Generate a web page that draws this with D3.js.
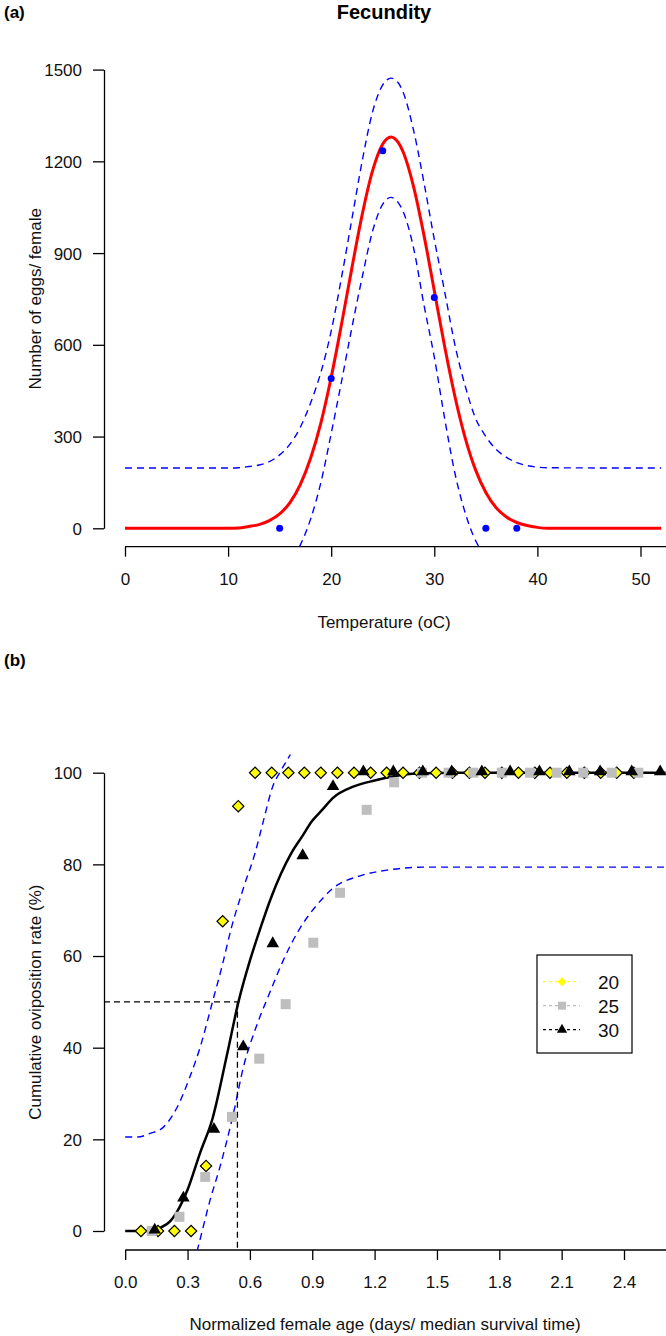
<!DOCTYPE html>
<html><head><meta charset="utf-8">
<script src="https://cdn.jsdelivr.net/npm/d3@7"></script>
<style>
body{margin:0;background:#fff;}
svg{display:block;font-family:"Liberation Sans",Arial,sans-serif;}
</style></head>
<body>
<svg id="c" width="666" height="1336"></svg>
<script>
// ---------- Panel (a) data ----------
const tempObs = [15, 20, 25, 30, 35, 38];
const eggsObs = [0, 490, 1235, 755, 0, 0];
const fitTemp = [0,10,11,12,13,14,15,16,17,18,19,20,21,22,23,24,25,25.8,26.5,27,28,29,30,31,32,33,34,35,36,37,38,39,40,41,52];
const fitEggs = [0,0,1,6,12,25,47,84,143,229,345,494,667,850,1025,1168,1257,1280,1262,1229,1116,958,777,595,431,295,191,117,67,37,19,9,3,0,0];
const fitUpper = [197,197,198,202,207,218,240,275,330,410,510,645,820,1010,1200,1360,1450,1472,1457,1424,1300,1130,945,775,600,465,360,300,258,232,215,205,200,198,197];
const fitLower = [-197,-197,-196,-190,-184,-172,-150,-113,-55,30,150,310,480,655,820,970,1060,1082,1065,1034,915,730,560,360,180,50,-40,-90,-130,-158,-176,-186,-192,-195,-197];
const tempTicks = [0,10,20,30,40,50];
const eggTicks = [0,300,600,900,1200,1500];

// ---------- Panel (b) data ----------
const age20 = [0.076,0.158,0.237,0.317,0.389,0.469,0.544,0.625,0.705,0.785,0.862,0.941,1.021,1.101,1.181,1.258,1.337,1.416,1.496,1.575,1.656,1.731,1.812,1.892,1.971,2.044,2.125,2.209,2.288,2.365,2.447];
const rate20 = [0,0,0,0,14.2,67.6,92.7,100,100,100,100,100,100,100,100,100,100,100,100,100,100,100,100,100,100,100,100,100,100,100,100];
const age25 = [0.128,0.261,0.385,0.514,0.645,0.772,0.905,1.034,1.162,1.294,1.428,1.556,1.675,1.812,1.948,2.076,2.204,2.341,2.469];
const rate25 = [0,3.1,11.8,24.9,37.6,49.5,62.9,73.8,91.9,97.9,100,100,100,100,100,100,100,100,100];
const age30 = [0.142,0.28,0.427,0.568,0.71,0.854,1.0,1.146,1.29,1.432,1.571,1.716,1.852,1.993,2.137,2.285,2.437,2.574];
const rate30 = [0,7,22,40,62.5,81.7,96.8,100,100,100,100,100,100,100,100,100,100,100];
const fitAge = [0,0.1,0.2,0.3,0.36,0.42,0.49,0.545,0.6,0.65,0.7,0.75,0.8,0.85,0.9,0.95,1.0,1.1,1.2,1.3,1.4,1.6,2.6];
const fitRate = [0,0,1.5,9,17,24.5,38.5,50,59,66,72.5,78,82.5,86,89.5,92,94.5,97,98.3,99.3,99.8,100,100];
const upAge = [0,0.06,0.12,0.18,0.25,0.31,0.36,0.42,0.47,0.51,0.57,0.625,0.665,0.71,0.75,0.8,0.85];
const upRate = [20.5,20.5,21.3,22.5,27,33.5,40,50,58.5,66,75,82.5,89.5,97,100.5,104.5,110];
const loAge = [0.30,0.348,0.41,0.456,0.52,0.57,0.63,0.70,0.76,0.84,0.92,1.0,1.13,1.27,1.45,2.6];
const loRate = [-12,-4,7,14,25.5,36,44.5,52.5,59,66,71,74.8,77.5,78.8,79.4,79.4];
const median = [0.54, 50];
const ageTicks = [0,0.3,0.6,0.9,1.2,1.5,1.8,2.1,2.4];
const rateTicks = [0,20,40,60,80,100];
const legendLabels = ["20","25","30"];

// ---------- drawing ----------
const svg = d3.select("#c");
const FS = 17;
const fontTick = FS + "px";

function zip(a,b){return a.map((v,i)=>[v,b[i]]);}

// Panel A scales
const xA = d3.scaleLinear().domain([0,50]).range([125,640.5]);
const yA = d3.scaleLinear().domain([0,1500]).range([528.3,69.6]);
const axA = 546.7, leftA = 104;
// Panel B scales
const xB = d3.scaleLinear().domain([0,2.4]).range([125.2,624]);
const yB = d3.scaleLinear().domain([0,100]).range([1231,772.7]);
const axB = 1250, leftB = 104;

const defs = svg.append("defs");
defs.append("clipPath").attr("id","clipA").append("rect").attr("x",leftA).attr("y",51).attr("width",666-leftA).attr("height",axA-51);
defs.append("clipPath").attr("id","clipB").append("rect").attr("x",leftB).attr("y",754.4).attr("width",666-leftB).attr("height",axB-754.4);

function drawAxes(x, y, axY, axX, xt, yt, fmt){
  const ga = svg.append("g").attr("transform",`translate(${axX},0)`)
    .call(d3.axisLeft(y).tickValues(yt).tickSize(11).tickSizeOuter(0).tickPadding(11).tickFormat(d3.format("d")));
  ga.select(".domain").attr("stroke","#000").attr("stroke-width",1.3);
  ga.selectAll(".tick line").attr("stroke","#000").attr("stroke-width",1.3);
  ga.selectAll("text").attr("font-size",fontTick).attr("fill","#111").attr("font-family","Liberation Sans, Arial").attr("dy","0.35em");
  const gb = svg.append("g").attr("transform",`translate(0,${axY})`)
    .call(d3.axisBottom(x).tickValues(xt).tickSize(10).tickSizeOuter(0).tickPadding(16).tickFormat(fmt));
  gb.select(".domain").remove();
  gb.append("line").attr("x1",x(0)).attr("x2",666).attr("y1",0).attr("y2",0).attr("stroke","#000").attr("stroke-width",1.3);
  gb.selectAll(".tick line").attr("stroke","#000").attr("stroke-width",1.3);
  gb.selectAll("text").attr("font-size",fontTick).attr("fill","#111").attr("font-family","Liberation Sans, Arial");
}

// ---- Panel A ----
svg.append("text").attr("x",4).attr("y",18).attr("font-weight","bold").attr("font-size","17px").text("(a)");
svg.append("text").attr("x",384).attr("y",19).attr("text-anchor","middle").attr("font-weight","bold").attr("font-size","20px").text("Fecundity");
drawAxes(xA,yA,axA,leftA,tempTicks,eggTicks,d3.format("d"));
svg.append("text").attr("x",384).attr("y",axA+81).attr("text-anchor","middle").attr("font-size",FS+"px").attr("fill","#111").text("Temperature (oC)");
svg.append("text").attr("transform",`translate(41,${(51+axA)/2}) rotate(-90)`).attr("text-anchor","middle").attr("font-size",FS+"px").attr("fill","#111").text("Number of eggs/ female");

const gA = svg.append("g").attr("clip-path","url(#clipA)");
const lineA = d3.line().x(d=>xA(d[0])).y(d=>yA(d[1])).curve(d3.curveMonotoneX);
gA.append("path").datum(zip(fitTemp,fitUpper)).attr("d",lineA).attr("fill","none").attr("stroke","#0000FF").attr("stroke-width",1.4).attr("stroke-dasharray","7,5");
gA.append("path").datum(zip(fitTemp,fitLower)).attr("d",lineA).attr("fill","none").attr("stroke","#0000FF").attr("stroke-width",1.4).attr("stroke-dasharray","7,5");
gA.append("path").datum(zip(fitTemp,fitEggs)).attr("d",lineA).attr("fill","none").attr("stroke","#FF0000").attr("stroke-width",3);
gA.selectAll("circle.obs").data(zip(tempObs,eggsObs)).join("circle").attr("class","obs")
  .attr("cx",d=>xA(d[0])).attr("cy",d=>yA(d[1])).attr("r",3.5).attr("fill","#0000FF");

// ---- Panel B ----
svg.append("text").attr("x",4).attr("y",666).attr("font-weight","bold").attr("font-size","17px").text("(b)");
drawAxes(xB,yB,axB,leftB,ageTicks,rateTicks,d3.format(".1f"));
svg.append("text").attr("x",385).attr("y",axB+80).attr("text-anchor","middle").attr("font-size",FS+"px").attr("fill","#111").text("Normalized female age (days/ median survival time)");
svg.append("text").attr("transform",`translate(41,${(754.4+axB)/2}) rotate(-90)`).attr("text-anchor","middle").attr("font-size",FS+"px").attr("fill","#111").text("Cumulative oviposition rate (%)");

const gB = svg.append("g").attr("clip-path","url(#clipB)");
const lineB = d3.line().x(d=>xB(d[0])).y(d=>yB(d[1])).curve(d3.curveMonotoneX);
gB.append("path").datum(zip(upAge,upRate)).attr("d",lineB).attr("fill","none").attr("stroke","#0000FF").attr("stroke-width",1.4).attr("stroke-dasharray","7,5");
gB.append("path").datum(zip(loAge,loRate)).attr("d",lineB).attr("fill","none").attr("stroke","#0000FF").attr("stroke-width",1.4).attr("stroke-dasharray","7,5");
gB.append("line").attr("x1",leftB).attr("x2",xB(median[0])).attr("y1",yB(median[1])).attr("y2",yB(median[1])).attr("stroke","#000").attr("stroke-width",1.3).attr("stroke-dasharray","6,4");
gB.append("line").attr("x1",xB(median[0])).attr("x2",xB(median[0])).attr("y1",yB(median[1])).attr("y2",axB).attr("stroke","#000").attr("stroke-width",1.3).attr("stroke-dasharray","6,4");
gB.append("path").datum(zip(fitAge,fitRate)).attr("d",lineB).attr("fill","none").attr("stroke","#000").attr("stroke-width",2.5);

const diamond = d3.symbol(d3.symbolSquare, 64);
const square = d3.symbol(d3.symbolSquare, 100);
const tri = d3.symbol(d3.symbolTriangle, 68);
const gP = svg.append("g");
gP.selectAll("path.s20").data(zip(age20,rate20)).join("path").attr("class","s20")
  .attr("d",diamond).attr("transform",d=>`translate(${xB(d[0])},${yB(d[1])}) rotate(45)`)
  .attr("fill","#FFFF00").attr("stroke","#000").attr("stroke-width",1.2);
gP.selectAll("path.s25").data(zip(age25,rate25)).join("path").attr("class","s25")
  .attr("d",square).attr("transform",d=>`translate(${xB(d[0])},${yB(d[1])})`)
  .attr("fill","#BEBEBE");
gP.selectAll("path.s30").data(zip(age30,rate30)).join("path").attr("class","s30")
  .attr("d",tri).attr("transform",d=>`translate(${xB(d[0])},${yB(d[1])-1})`)
  .attr("fill","#000");

// legend
const lg = svg.append("g");
lg.append("rect").attr("x",537).attr("y",955).attr("width",95).attr("height",98).attr("fill","#fff").attr("stroke","#000").attr("stroke-width",1.2);
const legCols = ["#FFFF00","#BEBEBE","#000"];
const legSyms = [d3.symbol(d3.symbolSquare,40), d3.symbol(d3.symbolSquare,64), d3.symbol(d3.symbolTriangle,45)];
legendLabels.forEach((lab,i)=>{
  const cy = 981.7 + i*24;
  lg.append("line").attr("x1",543).attr("x2",580).attr("y1",cy).attr("y2",cy).attr("stroke",legCols[i]).attr("stroke-width",1.2).attr("stroke-dasharray","3,3");
  lg.append("path").attr("d",legSyms[i]).attr("transform",`translate(562,${cy})`+(i===0?" rotate(45)":"")).attr("fill",legCols[i]);
  lg.append("text").attr("x",598).attr("y",cy+7).attr("font-size","19px").attr("fill","#111").text(lab);
});
</script>
</body></html>
